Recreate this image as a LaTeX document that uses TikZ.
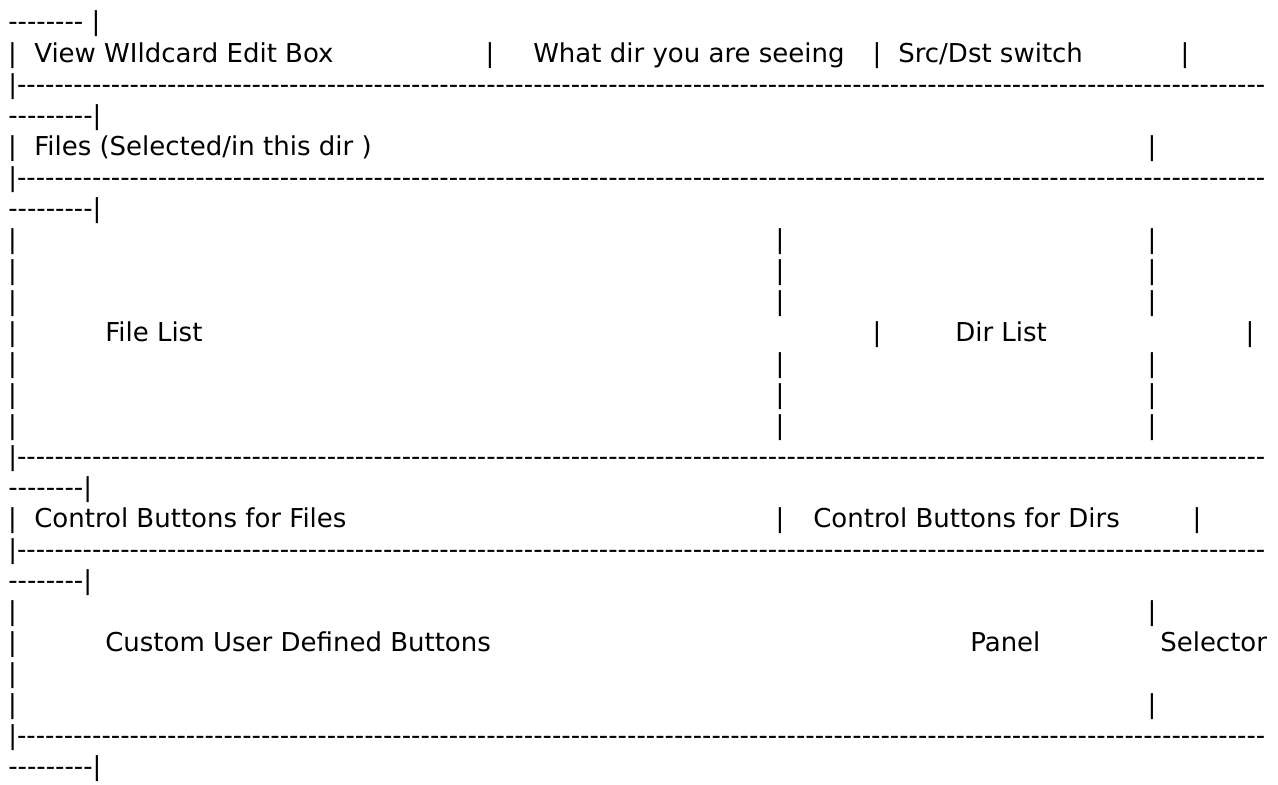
\documentclass[tikz,border=0pt]{standalone}
\usepackage{fontspec}
\newfontfamily\asciifont{DejaVu Sans}
\newcommand\dashrun[1]{\foreach \k in {1,...,#1}{-\kern0pt}}
\tikzset{
	lbl/.style={anchor=base west,inner sep=0pt,font=\asciifont\fontsize{19.5pt}{23pt}\selectfont},
	pipe/.style={lbl,anchor=base},
}
\begin{document}
\begin{tikzpicture}[x=0.75pt,y=-0.75pt]
	\useasboundingbox (0,0) rectangle (1278,785);
	\node[lbl] (r1) at (8,31) {\dashrun{8} |};
	\node[pipe] (r2a) at (12.4,62) {|};
	\node[lbl] (view) at (34,62) {View WIldcard Edit Box};
	\node[pipe] (r2b) at (490,62) {|};
	\node[lbl] (what) at (533,62) {What dir you are seeing};
	\node[pipe] (r2c) at (877,62) {|};
	\node[lbl] (srcdst) at (898,62) {Src/Dst switch};
	\node[pipe] (r2d) at (1185,62) {|};
	\node[lbl] (r3) at (8,93) {|\dashrun{133}};
	\node[lbl] (r4) at (8,124) {\dashrun{9}|};
	\node[pipe] (r5a) at (12.4,155) {|};
	\node[lbl] (files) at (34,155) {Files (Selected/in this dir )};
	\node[pipe] (r5b) at (1152,155) {|};
	\node[lbl] (r6) at (8,186) {|\dashrun{133}};
	\node[lbl] (r7) at (8,217) {\dashrun{9}|};
	\foreach \y in {248,279,310,372,403,434} {
		\node[pipe] (l\y) at (12.4,\y) {|};
		\node[pipe] (m\y) at (780,\y) {|};
		\node[pipe] (r\y) at (1152,\y) {|};
	}
	\node[pipe] (r11a) at (12.4,341) {|};
	\node[lbl] (filelist) at (105,341) {File List};
	\node[pipe] (r11b) at (877,341) {|};
	\node[lbl] (dirlist) at (955,341) {Dir List};
	\node[pipe] (r11c) at (1250,341) {|};
	\node[lbl] (r15) at (8,465) {|\dashrun{133}};
	\node[lbl] (r16) at (8,496) {\dashrun{8}|};
	\node[pipe] (r17a) at (12.4,527) {|};
	\node[lbl] (ctlfiles) at (34,527) {Control Buttons for Files};
	\node[pipe] (r17b) at (780,527) {|};
	\node[lbl] (ctldirs) at (813,527) {Control Buttons for Dirs};
	\node[pipe] (r17c) at (1197,527) {|};
	\node[lbl] (r18) at (8,558) {|\dashrun{133}};
	\node[lbl] (r19) at (8,589) {\dashrun{8}|};
	\node[pipe] (r20a) at (12.4,620) {|};
	\node[pipe] (r20b) at (1152,620) {|};
	\node[pipe] (r21a) at (12.4,651) {|};
	\node[lbl] (custom) at (105,651) {Custom User Defined Buttons};
	\node[lbl] (panel) at (970,651) {Panel};
	\node[lbl] (selector) at (1160,651) {Selector};
	\node[pipe] (r22a) at (12.4,682) {|};
	\node[pipe] (r23a) at (12.4,713) {|};
	\node[pipe] (r23b) at (1152,713) {|};
	\node[lbl] (r24) at (8,744) {|\dashrun{133}};
	\node[lbl] (r25) at (8,775) {\dashrun{9}|};
\end{tikzpicture}
\end{document}
